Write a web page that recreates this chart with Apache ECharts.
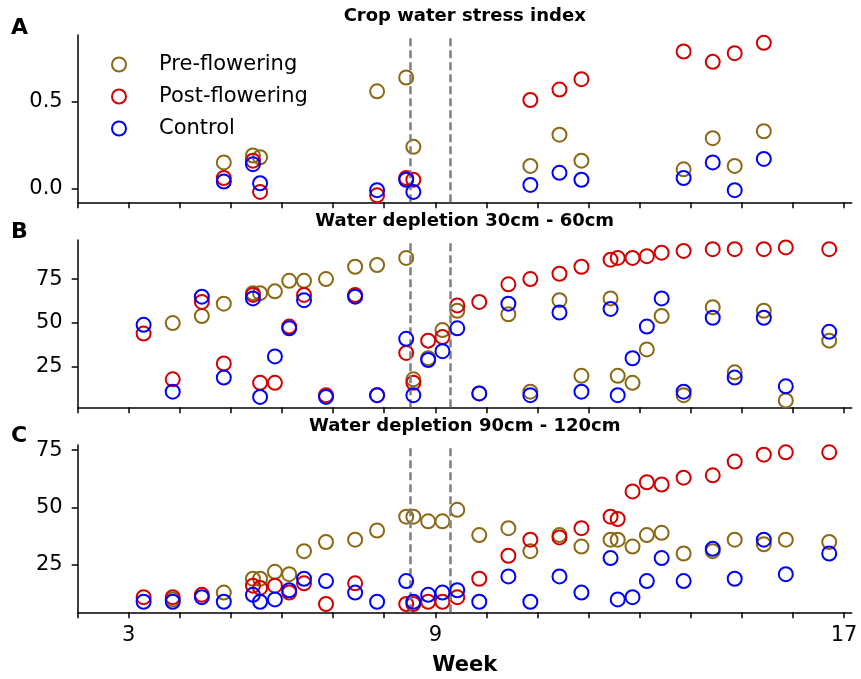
<!DOCTYPE html>
<html><head><meta charset="utf-8">
<script src="https://cdn.jsdelivr.net/npm/echarts@6/dist/echarts.min.js"></script>
<style>html,body{margin:0;padding:0;background:#fff}#c{width:861px;height:679px}</style>
</head><body><div id="c"></div>
<script>
// ---- data (weeks after sowing) ----
const weeksA = [4.86, 5.43, 5.57, 7.86, 8.43, 8.57, 10.86, 11.43, 11.86, 13.86, 14.43, 14.86, 15.43];
const preA  = [0.15, 0.19, 0.18, 0.56, 0.64, 0.24, 0.13, 0.31, 0.16, 0.11, 0.29, 0.13, 0.33];
const postA = [0.06, 0.16, -0.02, -0.04, 0.06, 0.05, 0.51, 0.57, 0.63, 0.79, 0.73, 0.78, 0.84];
const ctrlA = [0.04, 0.14, 0.03, -0.01, 0.05, -0.02, 0.02, 0.09, 0.05, 0.06, 0.15, -0.01, 0.17];

const weeks = [3.29, 3.86, 4.43, 4.86, 5.43, 5.57, 5.86, 6.14, 6.43, 6.86, 7.43, 7.86, 8.43, 8.57, 8.86, 9.14, 9.43, 9.86, 10.43, 10.86, 11.43, 11.86, 12.43, 12.57, 12.86, 13.14, 13.43, 13.86, 14.43, 14.86, 15.43, 15.86, 16.71];
const preB  = [null, 50, 54, 61, 67, 67, 68, 74, 74, 75, 82, 83, 87, 18, 30, 46, 57, 10, 55, 11, 63, 20, 64, 20, 16, 35, 54, 9, 59, 22, 57, 6, 40];
const postB = [44, 18, 62, 27, 66, 16, 16, 48, 66, 9, 66, 9, 33, 16, 40, 42, 60, 62, 72, 75, 78, 82, 86, 87, 87, 88, 90, 91, 92, 92, 92, 93, 92];
const ctrlB = [49, 11, 65, 19, 64, 8, 31, 47, 63, 8, 65, 9, 41, 9, 29, 34, 47, 10, 61, 9, 56, 11, 58, 9, 30, 48, 64, 11, 53, 19, 53, 14, 45];
const preC  = [null, 10, null, 13, 19, 19, 22, 21, 31, 35, 36, 40, 46, 46, 44, 44, 49, 38, 41, 31, 38, 33, 36, 36, 33, 38, 39, 30, 31, 36, 34, 36, 35];
const postC = [11, 11, 12, null, 16, 15, 16, 13, 17, 8, 17, null, 8, 8, 9, 9, 11, 19, 29, 36, 37, 41, 46, 45, 57, 61, 60, 63, 64, 70, 73, 74, 74];
const ctrlC = [9, 9, 11, 9, 12, 9, 10, 14, 19, 18, 13, 9, 18, 9, 12, 13, 14, 9, 20, 9, 20, 13, 28, 10, 11, 18, 28, 18, 32, 19, 36, 21, 30];

const seriesNames = ['Pre-flowering', 'Post-flowering', 'Control'];
const colors = ['#8b6914', '#d40000', '#0000ff'];
const flowerLines = [8.5, 9.29];
const xTicks = [2,3,4,5,6,7,8,9,10,11,12,13,14,15,16,17];
const xLabels = [3, 9, 17];
const panelTitles = ['Crop water stress index', 'Water depletion 30cm - 60cm', 'Water depletion 90cm - 120cm'];
const panelLetters = ['A', 'B', 'C'];

const FONT = 'DejaVu Sans';
const tops = [35, 240, 445];
const H = 167.3;
const yCfg = [
  {min: -0.08, max: 0.885, ticks: [0, 0.5], fmt: v => v.toFixed(1)},
  {min: 2.1, max: 97.2, ticks: [25, 50, 75], fmt: v => String(v)},
  {min: 4.4, max: 77.2, ticks: [25, 50, 75], fmt: v => String(v)}
];
const panels = [
  {x: weeksA, ys: [preA, postA, ctrlA]},
  {x: weeks, ys: [preB, postB, ctrlB]},
  {x: weeks, ys: [preC, postC, ctrlC]}
];

function pairs(xs, ys) {
  const out = [];
  xs.forEach((x, i) => { if (ys[i] !== null && ys[i] !== undefined) out.push([x, ys[i]]); });
  return out;
}

const grids = [], xAxes = [], yAxes = [], series = [], graphics = [];
tops.forEach((t, p) => {
  grids.push({left: 77.7, right: 9.3, top: t, height: H});
  xAxes.push({
    type: 'value', gridIndex: p, min: 2, max: 17.15,
    axisLine: {show: true, onZero: false, lineStyle: {color: '#000', width: 1.5}},
    axisTick: {show: true, inside: false, length: 6, customValues: xTicks, lineStyle: {color: '#000', width: 1.5}},
    axisLabel: {show: p === 2, customValues: xLabels, margin: 13, fontFamily: FONT, fontSize: 21, color: '#000'},
    splitLine: {show: false},
    name: p === 2 ? 'Week' : '', nameLocation: 'middle', nameGap: 43,
    nameTextStyle: {fontFamily: FONT, fontSize: 21, fontWeight: 'bold', color: '#000'}
  });
  const yc = yCfg[p];
  yAxes.push({
    type: 'value', gridIndex: p, min: yc.min, max: yc.max,
    axisLine: {show: true, onZero: false, lineStyle: {color: '#000', width: 1.5}},
    axisTick: {show: true, inside: false, length: 6, customValues: yc.ticks, lineStyle: {color: '#000', width: 1.5}},
    axisLabel: {customValues: yc.ticks, formatter: yc.fmt, margin: 15, fontFamily: FONT, fontSize: 21, color: '#000'},
    splitLine: {show: false}
  });
  const pd = panels[p];
  seriesNames.forEach((nm, s) => {
    const ser = {
      name: nm, type: 'scatter', xAxisIndex: p, yAxisIndex: p,
      symbol: 'circle', symbolSize: 14,
      itemStyle: {color: 'rgba(0,0,0,0)', borderColor: colors[s], borderWidth: 2, opacity: 1},
      emphasis: {disabled: true},
      data: pairs(pd.x, pd.ys[s]), z: 3 + s
    };
    if (s === 0) {
      ser.markLine = {
        silent: true, symbol: ['none', 'none'], label: {show: false},
        lineStyle: {color: '#808080', width: 2.5, type: [8, 4], opacity: 1},
        data: flowerLines.map(v => ({xAxis: v}))
      };
    }
    series.push(ser);
  });
  const titleY = [16.5, 221, 426][p];
  graphics.push({type: 'text', x: 464.7, y: titleY, style: {text: panelTitles[p], font: 'bold 18px "DejaVu Sans"', fill: '#000', textAlign: 'center', textVerticalAlign: 'middle'}});
  graphics.push({type: 'text', x: 11, y: [28, 232.5, 436][p], style: {text: panelLetters[p], font: 'bold 22px "DejaVu Sans"', fill: '#000', textAlign: 'left', textVerticalAlign: 'middle'}});
});

const chart = echarts.init(document.getElementById('c'), null, {renderer: 'canvas'});
chart.setOption({
  animation: false,
  backgroundColor: '#fff',
  grid: grids, xAxis: xAxes, yAxis: yAxes, series: series, graphic: graphics,
  legend: {
    show: true, orient: 'vertical', left: 106, top: 49, itemWidth: 14, itemHeight: 14, itemGap: 11,
    selectedMode: false,
    data: seriesNames.map((nm, s) => ({name: nm, icon: 'circle', itemStyle: {color: 'rgba(0,0,0,0)', borderColor: colors[s], borderWidth: 2, opacity: 1}})),
    textStyle: {fontFamily: FONT, fontSize: 21, color: '#000', padding: [0, 0, 0, 28], lineHeight: 21}
  }
});
</script></body></html>
